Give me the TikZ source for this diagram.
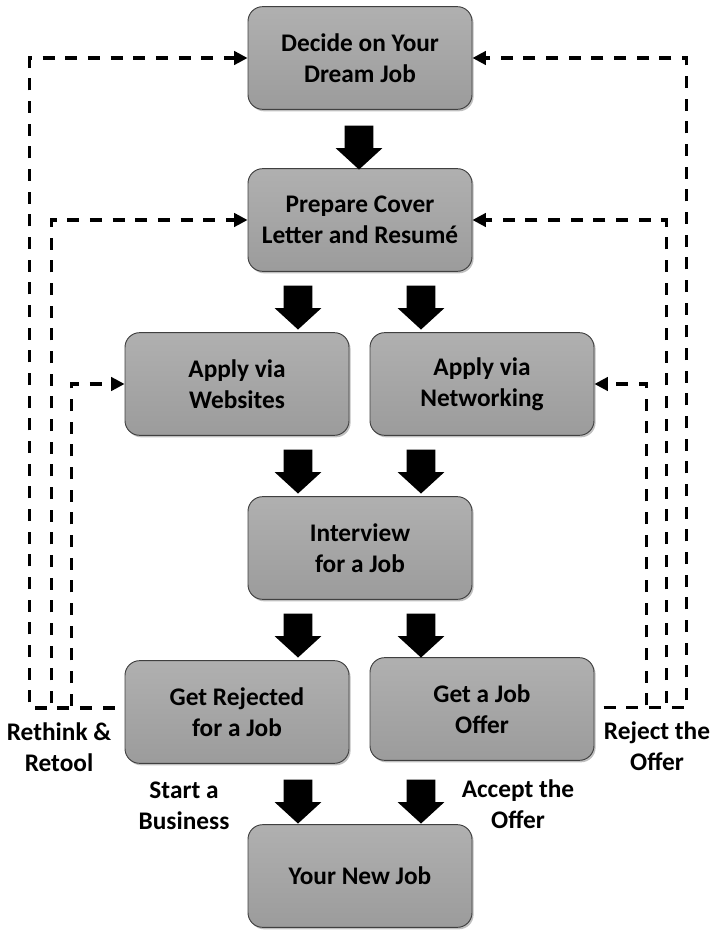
\documentclass[tikz,border=0pt]{standalone}
\usepackage{fontspec}
\setmainfont{Carlito}
\usetikzlibrary{shapes.arrows,shadows,arrows.meta}

\begin{document}
\begin{tikzpicture}[x=0.75pt,y=-0.75pt,
  font=\bfseries\fontsize{19}{23.5}\selectfont,
  stage/.style={draw=gray!50!black,line width=0.7pt,rounded corners=11pt,
    top color=gray!62,bottom color=gray!78,
    drop shadow={opacity=0.5,shadow xshift=1.2pt,shadow yshift=-1.5pt},
    minimum width=168pt,minimum height=77pt,align=center},
  blk/.style={single arrow,fill=black,inner sep=10.5pt,shape border rotate=270,
    minimum height=33pt,single arrow head extend=6.75pt,
    single arrow tip angle=95},
  back/.style={dash pattern=on 9pt off 8pt,line width=2.3pt,
    -{Triangle[length=10pt,width=10pt]}},
  note/.style={align=center}]
\useasboundingbox (0,0) rectangle (715,930);
% the stages
\node[stage] (dream)  at (360,58)  {Decide on Your\\Dream Job};
\node[stage] (prep)   at (360,220) {Prepare Cover\\Letter and Resumé};
\node[stage] (web)    at (237,384) {Apply via\\Websites};
\node[stage] (net)    at (482,384) {Apply via\\Networking};
\node[stage] (intv)   at (360,548) {Interview\\for a Job};
\node[stage] (rej)    at (237,712) {Get Rejected\\for a Job};
\node[stage] (offer)  at (482,709) {Get a Job\\Offer};
\node[stage] (newjob) at (360,876) {Your New Job};
% block arrows
\node[blk] (a1) at (359,141) {};
\node[blk] (a2) at (298,301) {};
\node[blk] (a3) at (421,301) {};
\node[blk] (a4) at (298,465) {};
\node[blk] (a5) at (421,465) {};
\node[blk] (a6) at (298,629) {};
\node[blk] (a7) at (421,629) {};
\node[blk] (a8) at (298,795) {};
\node[blk] (a9) at (421,795) {};
% loops back
\coordinate (rL) at ([xshift=-7.5pt,yshift=3pt]rej.west);
\coordinate (rR) at ([xshift=7pt,yshift=1pt]offer.east);
\draw[back] (rL) -- ++(-85,0) |- (dream.west);
\draw[back] (rL) -- ++(-63,0) |- (prep.west);
\draw[back] (rL) -- ++(-43,0) |- (web.west);
\draw[back] (rR) -- ++(83,0) |- (dream.east);
\draw[back] (rR) -- ++(63,0) |- (prep.east);
\draw[back] (rR) -- ++(43,0) |- (net.east);
% labels
\node[note] (rethink) at (59,747)  {Rethink \&\\Retool};
\node[note] (reject)  at (657,746) {Reject the\\Offer};
\node[note] (biz)     at (184,806) {Start a\\Business};
\node[note] (accept)  at (518,804) {Accept the\\Offer};
\end{tikzpicture}
\end{document}
